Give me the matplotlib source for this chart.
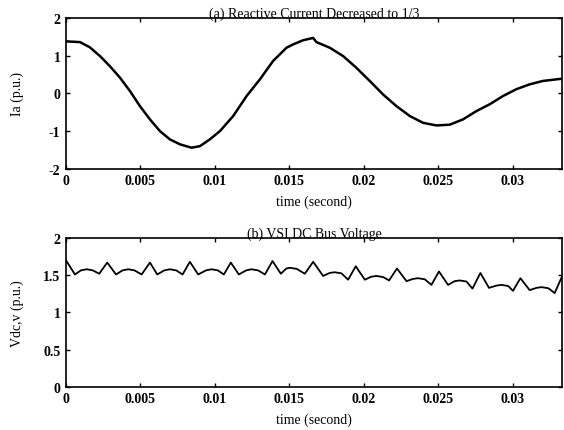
import matplotlib
matplotlib.use('Agg')
import matplotlib.pyplot as plt

# (a) phase current
t_ia = [0, 0.00094, 0.00161, 0.00228, 0.00295, 0.00362, 0.0043, 0.00497, 0.00564,
        0.00631, 0.00698, 0.00765, 0.00843, 0.00899, 0.00966, 0.01034, 0.01123,
        0.01213, 0.01302, 0.01391, 0.01481, 0.01526, 0.01593, 0.0166, 0.01682,
        0.01772, 0.01861, 0.0195, 0.0204, 0.0213, 0.0222, 0.02309, 0.02398,
        0.02488, 0.02577, 0.02666, 0.02756, 0.02845, 0.02935, 0.03024, 0.03114,
        0.03203, 0.03333]
ia = [1.38, 1.36, 1.22, 0.99, 0.72, 0.42, 0.06, -0.34, -0.69,
      -1.0, -1.22, -1.35, -1.44, -1.40, -1.22, -1.0, -0.6,
      -0.07, 0.37, 0.86, 1.21, 1.30, 1.41, 1.47, 1.36,
      1.21, 0.99, 0.68, 0.33, -0.03, -0.34, -0.60, -0.78,
      -0.85, -0.83, -0.69, -0.47, -0.29, -0.07, 0.11, 0.24,
      0.33, 0.39]

# (b) dc bus voltage: min / peak / min / arch pattern
t_vdc = [0, 0.0006, 0.0010, 0.00139, 0.0018, 0.00223, 0.00277, 0.00336, 0.0038,
         0.00418, 0.0046, 0.00508, 0.00564, 0.00613, 0.0066, 0.00698, 0.0074,
         0.00783, 0.00832, 0.00888, 0.0094, 0.00978, 0.0102, 0.0106, 0.01107,
         0.01161, 0.0121, 0.01246, 0.0129, 0.01336, 0.01387, 0.01443, 0.0148,
         0.01503, 0.0155, 0.01604, 0.0166, 0.01727, 0.0177, 0.01805, 0.0185,
         0.01895, 0.01946, 0.02007, 0.0205, 0.02085, 0.0213, 0.0217, 0.02223,
         0.02287, 0.0233, 0.02364, 0.0241, 0.02454, 0.02505, 0.02566, 0.0261,
         0.02644, 0.0269, 0.0273, 0.02783, 0.02841, 0.0289, 0.02924, 0.0297,
         0.03002, 0.03052, 0.03114, 0.0316, 0.03193, 0.0324, 0.03282, 0.03333]
vdc = [1.70, 1.51, 1.565, 1.58, 1.565, 1.52, 1.67, 1.51, 1.565,
       1.58, 1.565, 1.51, 1.67, 1.51, 1.565, 1.58, 1.565,
       1.51, 1.68, 1.51, 1.565, 1.58, 1.565, 1.51, 1.67,
       1.51, 1.565, 1.58, 1.565, 1.51, 1.69, 1.52, 1.59,
       1.60, 1.585, 1.52, 1.68, 1.49, 1.53, 1.54, 1.525,
       1.44, 1.62, 1.44, 1.48, 1.49, 1.475, 1.43, 1.59,
       1.42, 1.45, 1.46, 1.445, 1.37, 1.55, 1.37, 1.42,
       1.43, 1.415, 1.32, 1.53, 1.33, 1.36, 1.37, 1.355,
       1.29, 1.46, 1.30, 1.33, 1.34, 1.325, 1.26, 1.49]

xticks = [0, 0.005, 0.01, 0.015, 0.02, 0.025, 0.03]
xlabels = ['0', '0.005', '0.01', '0.015', '0.02', '0.025', '0.03']

plt.rcParams['font.family'] = ['Liberation Serif', 'DejaVu Serif']
plt.rcParams['font.size'] = 10
plt.rcParams['font.weight'] = 'bold'
plt.rcParams['axes.unicode_minus'] = False

fig = plt.figure(figsize=(5.64, 4.31), dpi=100)
ax1 = fig.add_axes([0.117, 0.606, 0.88, 0.35])
ax2 = fig.add_axes([0.117, 0.100, 0.88, 0.3455])

ax1.plot(t_ia, ia, color='black', lw=1.8)
ax1.set_ylim(-2, 2)
ax1.set_yticks([-2, -1, 0, 1, 2])
ax1.set_ylabel('Ia (p.u.)')
ax1.set_title('(a) Reactive Current Decreased to 1/3', pad=1, fontsize=10, fontweight='normal')

ax2.plot(t_vdc, vdc, color='black', lw=1.3)
ax2.set_ylim(0, 2)
ax2.set_yticks([0, 0.5, 1, 1.5, 2])
ax2.set_yticklabels(['0', '0.5', '1', '1.5', '2'])
ax2.set_ylabel('Vdc,v (p.u.)')
ax2.set_title('(b) VSI DC Bus Voltage', pad=1, fontsize=10, fontweight='normal')

for ax in (ax1, ax2):
    ax.set_xlim(0, 1 / 30)
    ax.set_xticks(xticks)
    ax.set_xticklabels(xlabels)
    ax.set_xlabel('time (second)', labelpad=5)
    ax.yaxis.set_label_coords(-0.085, 0.5)
    ax.tick_params(direction='in', top=True, right=True, length=3, width=1, pad=4)
    for s in ax.spines.values():
        s.set_linewidth(1.2)

fig.savefig('out.png', dpi=100)
